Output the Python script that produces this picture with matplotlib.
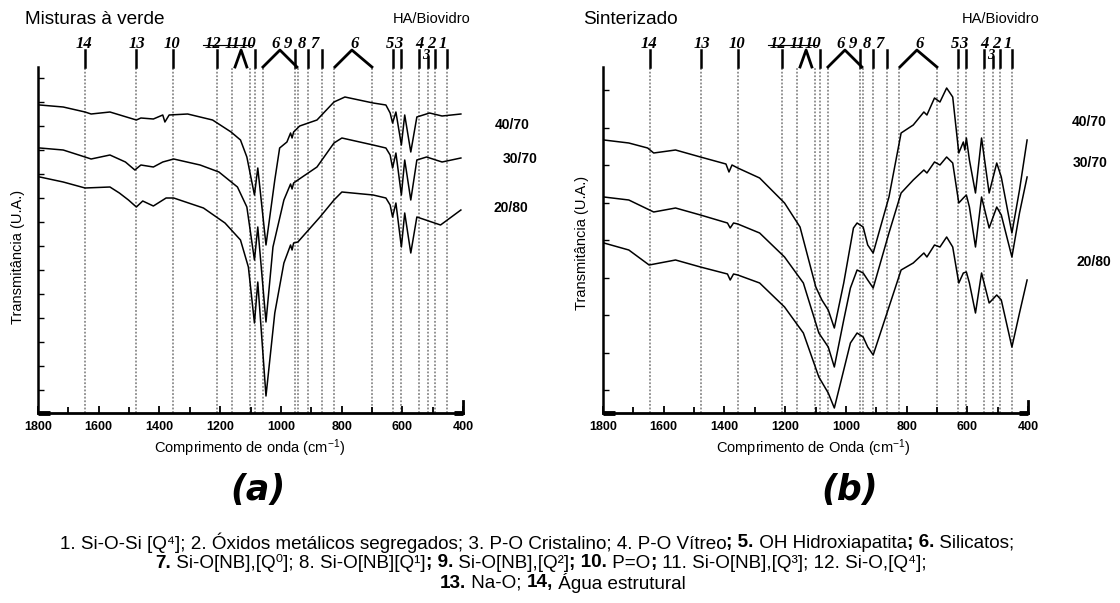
import matplotlib
matplotlib.use("Agg")
import matplotlib.pyplot as plt
import numpy as np

plt.rcParams['font.family'] = ['Liberation Sans', 'DejaVu Sans']
plt.rcParams['mathtext.fontset'] = 'custom'
plt.rcParams['mathtext.rm'] = 'Liberation Sans'
plt.rcParams['mathtext.it'] = 'Liberation Sans:italic'
plt.rcParams['mathtext.bf'] = 'Liberation Sans:bold'

# ---------------- dados (número de onda em cm-1, transmitância em U.A.) ----------------
# (a) Misturas à verde
wn_a_4070 = [1794, 1717, 1645, 1625, 1563, 1476, 1461, 1420, 1389, 1382, 1368, 1307, 1225, 1164,
             1133, 1112, 1087, 1076, 1049, 1020, 1004, 980, 968, 963, 958, 938, 881, 825, 789,
             696, 654, 640, 632, 621, 603, 592, 572, 552, 510, 469, 407]
t_a_4070 = [308, 306, 301, 299, 301, 293, 295, 294, 298, 291, 298, 299, 293, 281,
            273, 256, 218, 245, 168, 233, 265, 271, 280, 275, 281, 287, 293, 311, 316,
            310, 308, 300, 290, 301, 268, 298, 261, 296, 300, 297, 299]

wn_a_3070 = [1794, 1717, 1645, 1625, 1563, 1512, 1481, 1461, 1420, 1389, 1353, 1266, 1204, 1143,
             1112, 1087, 1076, 1049, 1026, 990, 968, 963, 958, 944, 881, 825, 799, 696, 654,
             640, 632, 621, 603, 592, 572, 552, 520, 469, 407]
t_a_3070 = [265, 263, 256, 254, 258, 251, 243, 248, 246, 251, 254, 248, 241, 226,
            206, 153, 186, 91, 166, 213, 229, 224, 230, 233, 246, 270, 275, 268, 265,
            258, 245, 260, 218, 253, 213, 253, 256, 251, 255]

wn_a_2080 = [1794, 1717, 1645, 1563, 1532, 1502, 1476, 1455, 1420, 1378, 1353, 1255, 1184, 1133,
             1107, 1087, 1076, 1049, 1020, 990, 968, 963, 958, 944, 871, 825, 799, 696, 654,
             640, 632, 621, 603, 592, 572, 552, 474, 407]
t_a_2080 = [236, 231, 225, 226, 220, 213, 206, 212, 207, 215, 215, 205, 190, 173,
            146, 90, 131, 17, 100, 150, 168, 163, 170, 171, 196, 213, 221, 218, 215,
            208, 196, 210, 166, 200, 160, 196, 188, 203]

# (b) Sinterizado
wn_b_4070 = [1797, 1715, 1653, 1633, 1561, 1479, 1395, 1385, 1375, 1356, 1284, 1202, 1151, 1099,
             1079, 1058, 1038, 1007, 975, 963, 943, 928, 910, 858, 818, 778, 743, 733, 708,
             690, 668, 648, 628, 613, 608, 603, 593, 573, 553, 528, 503, 488, 453, 428, 403]
t_b_4070 = [273, 270, 265, 260, 263, 256, 249, 241, 248, 245, 235, 210, 186, 126,
            113, 103, 85, 130, 185, 190, 186, 168, 160, 216, 280, 288, 301, 298, 315,
            311, 325, 316, 260, 271, 263, 275, 253, 220, 275, 220, 250, 236, 180, 223, 273]

wn_b_3070 = [1797, 1715, 1633, 1561, 1479, 1390, 1381, 1370, 1356, 1284, 1202, 1140, 1089, 1058,
             1038, 1007, 985, 963, 943, 928, 910, 858, 818, 778, 743, 733, 708, 690, 668,
             648, 628, 613, 603, 593, 573, 553, 528, 503, 488, 453, 428, 403]
t_b_3070 = [216, 213, 201, 205, 198, 190, 185, 190, 189, 180, 156, 130, 80, 66,
            46, 93, 125, 143, 140, 133, 125, 180, 220, 233, 243, 240, 251, 248, 256,
            250, 210, 215, 218, 206, 166, 216, 185, 206, 198, 156, 200, 236]

wn_b_2080 = [1797, 1715, 1648, 1561, 1479, 1390, 1381, 1370, 1356, 1284, 1202, 1140, 1089, 1058,
             1038, 1007, 985, 963, 943, 928, 910, 858, 818, 778, 743, 733, 708, 690, 668,
             648, 628, 613, 603, 593, 573, 553, 528, 503, 488, 453, 428, 403]
t_b_2080 = [170, 163, 148, 153, 146, 139, 133, 139, 138, 130, 106, 80, 36, 20,
            5, 43, 70, 80, 76, 66, 58, 106, 143, 150, 160, 156, 168, 166, 176,
            166, 130, 140, 141, 130, 100, 140, 110, 118, 113, 66, 100, 133]

amostras = ['40/70', '30/70', '20/80']

# linhas pontilhadas de referência (cm-1)
linhas_ref = [1645, 1478, 1356, 1209, 1160, 1102, 1085, 1058, 953, 943, 910, 865, 824,
              699, 630, 604, 544, 514, 492, 454]

# marcadores das bandas: barras simples e "telhados" (esq, topo, dir)
barras = [1645, 1478, 1356, 1209, 1085, 953, 910, 865, 630, 604, 544, 492, 454]
telhados = [(1151, 1131, 1112), (1059, 1003, 947), (822, 766, 700)]
rotulos = ['14', '13', '10', '12', '11', '10', '6', '9', '8', '7', '6', '5', '3', '4', '2', '1']
pos_rotulos = [1648, 1474, 1359, 1224, 1158, 1108, 1016, 976, 930, 888, 756, 640, 614, 542, 505, 466]

W, H = 1120, 603
fig = plt.figure(figsize=(W / 100, H / 100), dpi=100)

fonte_num = dict(style='italic', weight='bold', family=['Liberation Serif', 'DejaVu Serif'])


def caixa(x0, x1, ytop, ybot):
    return [x0 / W, 1 - ybot / H, (x1 - x0) / W, (ybot - ytop) / H]


def painel(ax, series, yticks, pos_amostras):
    for wn, t in series:
        ax.plot(wn, t, color='black', lw=1.1)
    for w in linhas_ref:
        ax.axvline(w, color='#8a8a8a', ls=(0, (1, 1)), lw=1.3, zorder=0)
    ax.set_xlim(1800, 400)
    ax.set_ylim(0, 346)
    ax.spines['top'].set_visible(False)
    ax.spines['right'].set_visible(False)
    ax.spines['bottom'].set_linewidth(2)
    ax.spines['left'].set_linewidth(1.8)
    ax.set_xticks(np.arange(1800, 399, -200))
    ax.set_xticks(np.arange(1700, 400, -200), minor=True)
    ax.set_yticks(yticks)
    ax.set_yticklabels([])
    ax.tick_params(axis='x', which='major', direction='in', length=5, width=1.3, pad=6, labelsize=9)
    ax.tick_params(axis='x', which='minor', direction='in', length=4, width=1.3)
    ax.tick_params(axis='y', direction='in', length=4, width=1)
    for lbl in ax.get_xticklabels():
        lbl.set_fontweight('bold')

    tr = ax.get_xaxis_transform()
    # extremos do eixo
    ax.plot([1800, 1760], [0, 0], color='black', lw=3.5, transform=tr, clip_on=False, solid_capstyle='butt')
    ax.plot([430, 400], [0, 0], color='black', lw=3.5, transform=tr, clip_on=False, solid_capstyle='butt')
    ax.plot([400, 400], [0, 0.035], color='black', lw=2, transform=tr, clip_on=False)

    # marcadores das bandas
    for w in barras:
        ax.plot([w, w], [1.0, 1.049], color='black', lw=1.8, transform=tr, clip_on=False)
    ax.plot([514, 514], [1.0, 1.03], color='black', lw=1.8, transform=tr, clip_on=False)
    for esq, topo, dir_ in telhados:
        ax.plot([esq, topo, dir_], [1.0, 1.049, 1.0], color='black', lw=2, transform=tr, clip_on=False)
    for s, w in zip(rotulos, pos_rotulos):
        ax.text(w, 1.066, s, transform=tr, ha='center', va='center', fontsize=12, **fonte_num)
    ax.text(524, 1.034, '3', transform=tr, ha='center', va='center', fontsize=10.5, **fonte_num)
    ax.plot([1255, 1095], [1.064, 1.064], color='black', lw=0.8, transform=tr, clip_on=False)

    for nome, (xa, ya) in zip(amostras, pos_amostras):
        ax.text(xa, ya, nome, transform=ax.transAxes, fontsize=10, weight='bold', va='center')


ax_a = fig.add_axes(caixa(38, 463, 67, 413))
painel(ax_a, [(wn_a_4070, t_a_4070), (wn_a_3070, t_a_3070), (wn_a_2080, t_a_2080)],
       np.arange(23, 346, 24), [(1.075, 0.832), (1.094, 0.734), (1.071, 0.592)])

ax_b = fig.add_axes(caixa(603, 1028, 67, 413))
painel(ax_b, [(wn_b_4070, t_b_4070), (wn_b_3070, t_b_3070), (wn_b_2080, t_b_2080)],
       np.arange(23, 346, 37.5), [(1.104, 0.84), (1.106, 0.723), (1.115, 0.436)])

# títulos e eixos
fig.text(25 / W, 1 - 19 / H, 'Misturas à verde', fontsize=13.7, va='center')
fig.text(393 / W, 1 - 19 / H, 'HA/Biovidro', fontsize=10.5, va='center')
fig.text(583 / W, 1 - 19 / H, 'Sinterizado', fontsize=13.7, va='center')
fig.text(962 / W, 1 - 19 / H, 'HA/Biovidro', fontsize=10.5, va='center')
fig.text(250 / W, 1 - 448 / H, 'Comprimento de onda (cm$^{-1}$)', fontsize=10.5, ha='center', va='center')
fig.text(813 / W, 1 - 448 / H, 'Comprimento de Onda (cm$^{-1}$)', fontsize=10.5, ha='center', va='center')
fig.text(18 / W, 1 - 257 / H, 'Transmitância (U.A.)', fontsize=10.5, rotation=90, ha='center', va='center')
fig.text(582 / W, 1 - 243 / H, 'Transmitância (U.A.)', fontsize=10.5, rotation=90, ha='center', va='center')

fig.text(258 / W, 1 - 490 / H, '(a)', fontsize=25, weight='bold', style='italic', ha='center',
         va='center', family='DejaVu Sans')
fig.text(850 / W, 1 - 490 / H, '(b)', fontsize=25, weight='bold', style='italic', ha='center',
         va='center', family='DejaVu Sans')

# legenda das bandas, com partes em negrito
legenda = [
    (543, 537, [('1. Si-O-Si [Q⁴]; 2. Óxidos metálicos segregados; 3. P-O Cristalino; 4. P-O Vítreo', 'normal'),
                ('; 5.', 'bold'), (' OH Hidroxiapatita', 'normal'), ('; 6.', 'bold'), (' Silicatos;', 'normal')]),
    (563, 541, [('7.', 'bold'), (' Si-O[NB],[Q⁰]; 8. Si-O[NB][Q¹]', 'normal'), ('; 9.', 'bold'),
                (' Si-O[NB],[Q²]', 'normal'), ('; 10.', 'bold'), (' P=O', 'normal'), (';', 'bold'),
                (' 11. Si-O[NB],[Q³]; 12. Si-O,[Q⁴];', 'normal')]),
    (583, 563, [('13.', 'bold'), (' Na-O; ', 'normal'), ('14,', 'bold'), (' Água estrutural', 'normal')]),
]
largura_linha1 = 1061
familia_leg = ['Liberation Sans Narrow', 'Liberation Sans', 'DejaVu Sans']

rend = fig.canvas.get_renderer()
# tamanho da fonte ajustado para que a 1a linha ocupe a largura do original (com limite de altura)
provas = [fig.text(0, 0, s, fontsize=12, weight=p, family=familia_leg) for s, p in legenda[0][2]]
larg = sum(t.get_window_extent(rend).width for t in provas)
for t in provas:
    t.remove()
tam = min(12 * largura_linha1 / larg, 13.6)

for y, xc, partes in legenda:
    textos = []
    for s, peso in partes:
        t = fig.text(0, 1 - y / H, s, fontsize=tam, weight=peso, va='center', family=familia_leg)
        textos.append((t, t.get_window_extent(rend).width))
    x = xc - sum(w for _, w in textos) / 2
    for t, w in textos:
        t.set_x(x / W)
        x += w

fig.savefig('out.png', dpi=100)
